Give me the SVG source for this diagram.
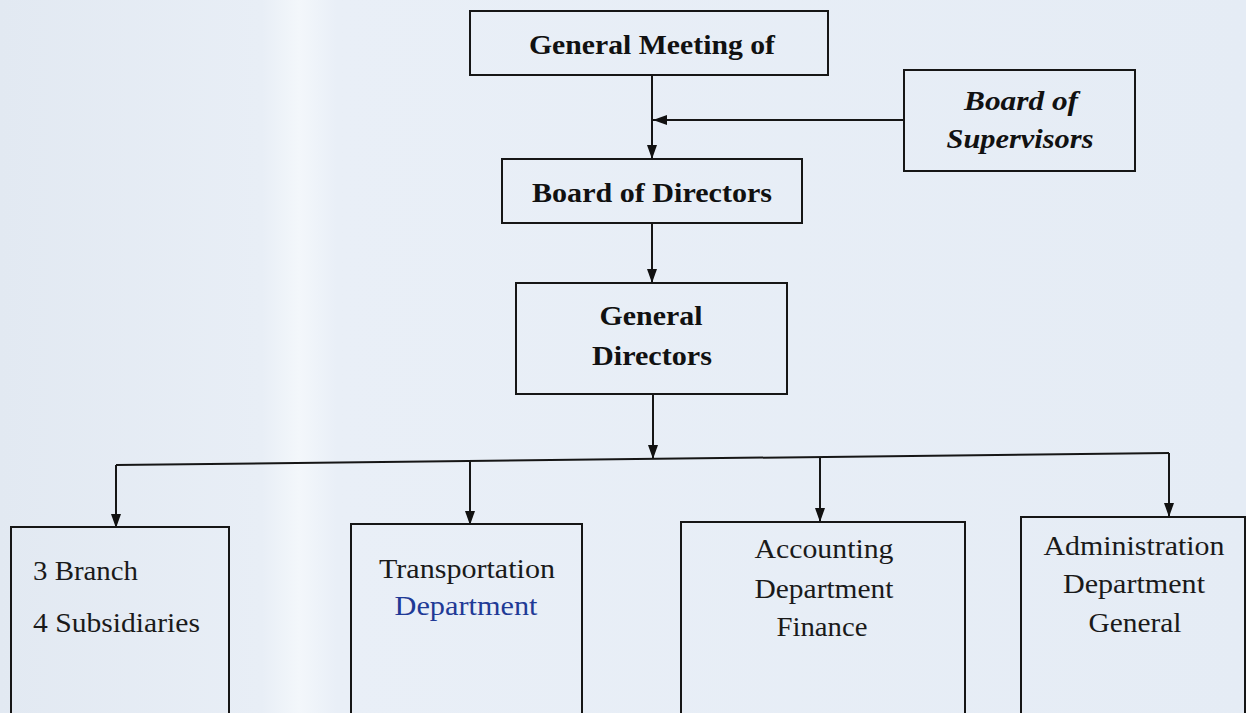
<svg xmlns="http://www.w3.org/2000/svg" width="1246" height="713" viewBox="0 0 1246 713">
<defs>
<linearGradient id="bg" x1="0" y1="0" x2="1" y2="0">
<stop offset="0" stop-color="#e2e9f2"/>
<stop offset="0.21" stop-color="#e8eef6"/>
<stop offset="0.24" stop-color="#f3f7fb"/>
<stop offset="0.27" stop-color="#e9eff7"/>
<stop offset="1" stop-color="#e5ecf5"/>
</linearGradient>
<marker id="arr" viewBox="0 0 14 10" markerWidth="14" markerHeight="10" refX="14" refY="5" orient="auto" markerUnits="userSpaceOnUse">
<path d="M0,0 L14,5 L0,10 z" fill="#111"/>
</marker>
<style>
.box{fill:none;stroke:#161616;stroke-width:2}
.ln{fill:none;stroke:#161616;stroke-width:2}
text{font-family:'Liberation Serif','Times New Roman',Times,serif}
.b{font-weight:bold;font-size:28px;fill:#111;text-anchor:middle}
.bi{font-weight:bold;font-style:italic;font-size:28px;fill:#111;text-anchor:middle}
.r{font-size:27px;fill:#1a1a1a;text-anchor:middle}
.rl{font-size:27px;fill:#1a1a1a}
</style>
</defs>
<rect x="0" y="0" width="1246" height="713" fill="url(#bg)"/>

<g id="connectors">
<line class="ln" x1="652" y1="75" x2="652" y2="159" marker-end="url(#arr)"/>
<line class="ln" x1="904" y1="120" x2="653" y2="120" marker-end="url(#arr)"/>
<line class="ln" x1="652" y1="223" x2="652" y2="283" marker-end="url(#arr)"/>
<line class="ln" x1="653" y1="395" x2="653" y2="459" marker-end="url(#arr)"/>
<line class="ln" x1="116" y1="465" x2="1169" y2="453"/>
<line class="ln" x1="116" y1="465" x2="116" y2="528" marker-end="url(#arr)"/>
<line class="ln" x1="470" y1="461" x2="470" y2="525" marker-end="url(#arr)"/>
<line class="ln" x1="820" y1="457" x2="820" y2="522" marker-end="url(#arr)"/>
<line class="ln" x1="1169" y1="453" x2="1169" y2="517" marker-end="url(#arr)"/>
</g>

<g id="general-meeting">
<rect class="box" x="470" y="11" width="358" height="64"/>
<text class="b" x="652" y="54" textLength="246" lengthAdjust="spacingAndGlyphs">General Meeting of</text>
</g>

<g id="board-of-supervisors">
<rect class="box" x="904" y="70" width="231" height="101"/>
<text class="bi" x="1021" y="110" textLength="114" lengthAdjust="spacingAndGlyphs">Board of</text>
<text class="bi" x="1020" y="148" textLength="147" lengthAdjust="spacingAndGlyphs">Supervisors</text>
</g>

<g id="board-of-directors">
<rect class="box" x="502" y="159" width="300" height="64"/>
<text class="b" x="652" y="202" textLength="240" lengthAdjust="spacingAndGlyphs">Board of Directors</text>
</g>

<g id="general-directors">
<rect class="box" x="516" y="283" width="271" height="111"/>
<text class="b" x="651" y="325" textLength="103" lengthAdjust="spacingAndGlyphs">General</text>
<text class="b" x="652" y="365" textLength="120" lengthAdjust="spacingAndGlyphs">Directors</text>
</g>

<g id="branch-subsidiaries">
<rect class="box" x="11" y="527" width="218" height="200"/>
<text class="rl" x="33" y="580" textLength="105" lengthAdjust="spacingAndGlyphs">3 Branch</text>
<text class="rl" x="33" y="632" textLength="167" lengthAdjust="spacingAndGlyphs">4 Subsidiaries</text>
</g>

<g id="transportation">
<rect class="box" x="351" y="524" width="231" height="200"/>
<text class="r" x="467" y="578" textLength="176" lengthAdjust="spacingAndGlyphs">Transportation</text>
<text class="r" x="466" y="615" textLength="143" lengthAdjust="spacingAndGlyphs" style="fill:#1f3a96">Department</text>
</g>

<g id="accounting">
<rect class="box" x="681" y="522" width="284" height="200"/>
<text class="r" x="824" y="558" textLength="139" lengthAdjust="spacingAndGlyphs">Accounting</text>
<text class="r" x="824" y="598" textLength="139" lengthAdjust="spacingAndGlyphs">Department</text>
<text class="r" x="822" y="636" textLength="91" lengthAdjust="spacingAndGlyphs">Finance</text>
</g>

<g id="administration">
<rect class="box" x="1021" y="517" width="224" height="210"/>
<text class="r" x="1134" y="555" textLength="181" lengthAdjust="spacingAndGlyphs">Administration</text>
<text class="r" x="1134" y="593" textLength="142" lengthAdjust="spacingAndGlyphs">Department</text>
<text class="r" x="1135" y="632" textLength="93" lengthAdjust="spacingAndGlyphs">General</text>
</g>
</svg>
